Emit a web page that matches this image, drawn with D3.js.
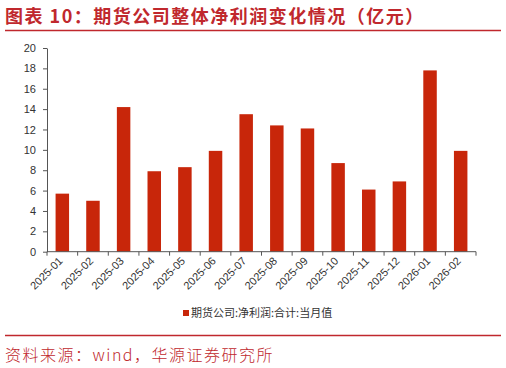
<!DOCTYPE html>
<html>
<head>
<meta charset="utf-8">
<script src="https://cdn.jsdelivr.net/npm/d3@7"></script>
<style>
  body { margin: 0; background: #fff; }
  svg text { font-family: "Liberation Sans", Arial, "Noto Sans CJK SC", sans-serif; }
</style>
</head>
<body>
<div id="viz"></div>
<script>
// 月度数据（亿元）
var months = ["2025-01", "2025-02", "2025-03", "2025-04", "2025-05", "2025-06", "2025-07",
              "2025-08", "2025-09", "2025-10", "2025-11", "2025-12", "2026-01", "2026-02"];
var profit = [5.7, 5.0, 14.2, 7.9, 8.3, 9.9, 13.5, 12.4, 12.1, 8.7, 6.1, 6.9, 17.8, 9.9];
var yTicks = [0, 2, 4, 6, 8, 10, 12, 14, 16, 18, 20];
var legendLabel = "期货公司:净利润:合计:当月值";
var titleText = "图表 10：期货公司整体净利润变化情况（亿元）";
var sourceText = "资料来源：wind，华源证券研究所";

var W = 506, H = 368;
var red = "#c0282d", barColor = "#c8260a";

var svg = d3.select("#viz").append("svg")
    .attr("width", W)
    .attr("height", H);

// title
svg.append("text")
    .attr("x", 5)
    .attr("y", 23)
    .attr("fill", red)
    .attr("font-size", "18px")
    .attr("font-weight", "bold")
    .style("font-family", "'Noto Sans CJK SC', sans-serif")
    .style("letter-spacing", "1.5px")
    .text(titleText);

svg.append("line")
    .attr("x1", 5).attr("x2", 501)
    .attr("y1", 30.5).attr("y2", 30.5)
    .attr("stroke", red)
    .attr("stroke-width", 1.5);

var x = d3.scaleBand()
    .domain(months)
    .range([47, 476])
    .paddingInner(0.56)
    .paddingOuter(0.28);

var y = d3.scaleLinear()
    .domain([0, 20])
    .range([251.7, 48]);

// bars
svg.selectAll("rect.bar")
    .data(profit)
    .enter()
    .append("rect")
    .attr("class", "bar")
    .attr("x", function(d, i) { return x(months[i]); })
    .attr("y", function(d) { return y(d); })
    .attr("width", x.bandwidth())
    .attr("height", function(d) { return y(0) - y(d); })
    .attr("fill", barColor);

// y axis
var yAxis = d3.axisLeft(y)
    .tickValues(yTicks)
    .tickSize(4)
    .tickSizeOuter(0);

var gy = svg.append("g")
    .attr("transform", "translate(47,0)")
    .call(yAxis);
gy.select(".domain").attr("stroke", "#555");
gy.selectAll(".tick line").attr("stroke", "#555");
gy.selectAll(".tick text")
    .attr("x", -11)
    .attr("fill", "#333")
    .attr("font-size", "11px");

// x axis: ticks on band boundaries
var gx = svg.append("g")
    .attr("transform", "translate(0," + y(0) + ")");

gx.append("line")
    .attr("x1", 47).attr("x2", 476)
    .attr("stroke", "#555");

var bounds = d3.range(months.length + 1).map(function(i) { return 47 + i * x.step(); });
gx.selectAll("line.tk")
    .data(bounds)
    .enter()
    .append("line")
    .attr("class", "tk")
    .attr("x1", function(d) { return d; })
    .attr("x2", function(d) { return d; })
    .attr("y1", 0).attr("y2", 4)
    .attr("stroke", "#555");

gx.selectAll("text.lbl")
    .data(months)
    .enter()
    .append("text")
    .attr("class", "lbl")
    .attr("text-anchor", "end")
    .attr("font-size", "11px")
    .attr("fill", "#333")
    .attr("transform", function(d) {
        var cx = x(d) + x.bandwidth() / 2;
        return "translate(" + (cx + 1) + ",10) rotate(-45)";
    })
    .text(function(d) { return d; });

// legend
svg.append("rect")
    .attr("x", 183)
    .attr("y", 310)
    .attr("width", 6)
    .attr("height", 6)
    .attr("fill", barColor);

svg.append("text")
    .attr("x", 191)
    .attr("y", 317)
    .attr("fill", "#333")
    .attr("font-size", "11px")
    .style("font-family", "'Noto Sans CJK SC', sans-serif")
    .text(legendLabel);

// source
svg.append("line")
    .attr("x1", 5).attr("x2", 501)
    .attr("y1", 335.5).attr("y2", 335.5)
    .attr("stroke", red)
    .attr("stroke-width", 1.5);

svg.append("text")
    .attr("x", 5)
    .attr("y", 361)
    .attr("fill", red)
    .attr("font-size", "16px")
    .attr("font-weight", "300")
    .style("font-family", "'Noto Sans CJK SC', sans-serif")
    .style("letter-spacing", "1.5px")
    .text(sourceText);
</script>
</body>
</html>
